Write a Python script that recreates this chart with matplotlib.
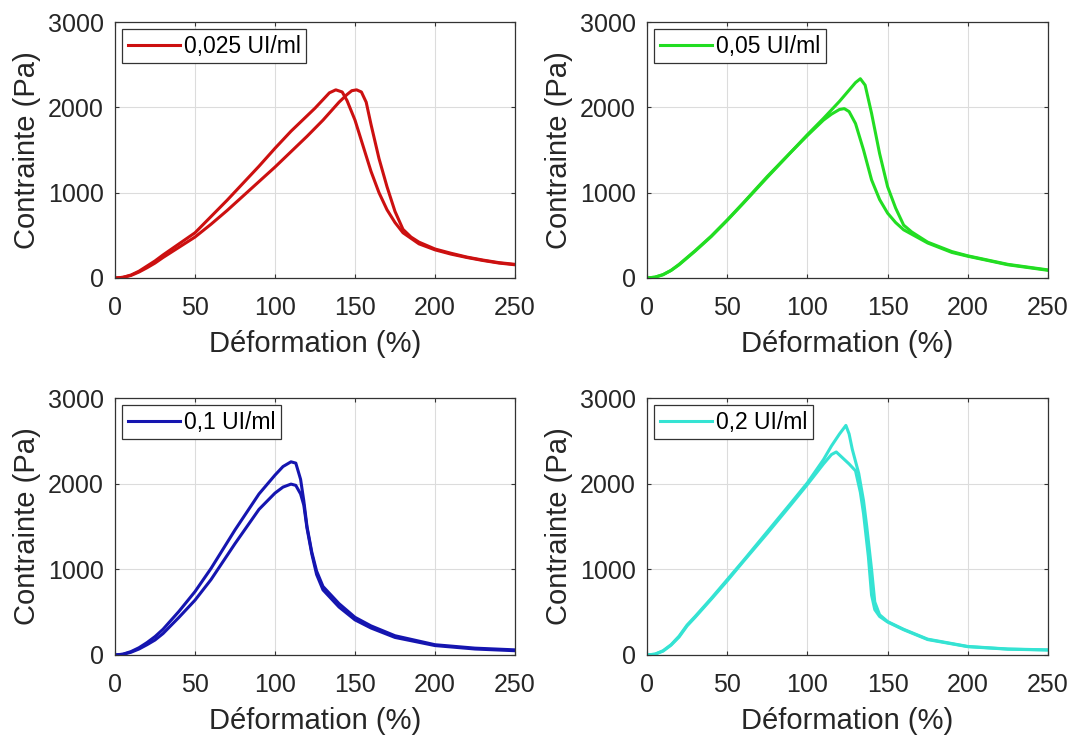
#!/usr/bin/env python3

import matplotlib
matplotlib.use("Agg")
import matplotlib.pyplot as plt

# strain (%) / stress (Pa), two tests per concentration
red_a_x = [0, 5, 10, 15, 20, 25, 30, 40, 50, 60, 70, 80, 90, 100, 110, 120, 125, 130, 134, 138,
           142, 145, 150, 155, 160, 165, 170, 175, 180, 190, 200, 210, 220, 230, 240, 250]
red_a_y = [0, 8, 35, 80, 140, 200, 270, 400, 530, 720, 910, 1110, 1310, 1520, 1720, 1900, 1990, 2090, 2170, 2205,
           2180, 2080, 1850, 1550, 1250, 1000, 800, 650, 530, 400, 330, 280, 240, 205, 175, 155]
red_b_x = [0, 5, 10, 15, 20, 25, 30, 40, 50, 60, 70, 80, 90, 100, 110, 120, 130, 140, 145, 148,
           151, 154, 157, 160, 165, 170, 175, 180, 185, 190, 200, 210, 220, 230, 240, 250]
red_b_y = [0, 8, 30, 70, 120, 175, 240, 360, 480, 630, 790, 960, 1130, 1300, 1480, 1660, 1850, 2060, 2150, 2195,
           2205, 2180, 2060, 1800, 1400, 1070, 780, 570, 480, 420, 340, 290, 245, 210, 180, 160]

green_a_x = [0, 5, 10, 15, 20, 25, 30, 40, 50, 60, 75, 90, 100, 110, 115, 120, 123, 126, 130, 135,
             140, 145, 150, 155, 160, 175, 190, 200, 225, 250]
green_a_y = [0, 10, 40, 90, 160, 240, 320, 490, 680, 880, 1190, 1480, 1670, 1850, 1920, 1975, 1985, 1950, 1810, 1500,
             1150, 920, 760, 650, 565, 410, 300, 255, 155, 90]
green_b_x = [0, 5, 10, 15, 20, 25, 30, 40, 50, 60, 75, 90, 100, 110, 120, 125, 130, 133, 136, 140,
             145, 150, 155, 160, 165, 175, 190, 200, 225, 250]
green_b_y = [0, 10, 38, 88, 155, 235, 315, 485, 675, 875, 1180, 1480, 1680, 1870, 2070, 2180, 2290, 2335, 2260, 1930,
             1460, 1070, 820, 620, 540, 420, 310, 260, 160, 95]

blue_a_x = [0, 5, 10, 15, 20, 25, 30, 40, 50, 60, 75, 90, 100, 105, 110, 113, 116, 118, 120, 123,
            126, 130, 140, 150, 160, 175, 200, 225, 250]
blue_a_y = [0, 10, 40, 85, 145, 215, 300, 510, 740, 1010, 1460, 1880, 2100, 2200, 2255, 2240, 2050, 1800, 1500, 1200,
            980, 800, 600, 440, 340, 225, 120, 80, 60]
blue_b_x = blue_a_x
blue_b_y = [0, 8, 32, 70, 120, 175, 250, 440, 640, 880, 1300, 1700, 1890, 1960, 1995, 1980, 1880, 1750, 1480, 1180,
            940, 760, 560, 410, 315, 205, 110, 70, 50]

cyan_a_x = [0, 5, 10, 15, 20, 25, 30, 40, 50, 60, 75, 90, 100, 110, 115, 120, 124, 126, 128, 132,
            135, 137, 140, 142, 145, 150, 160, 175, 200, 225, 250]
cyan_a_y = [0, 10, 50, 120, 220, 350, 450, 660, 880, 1100, 1440, 1780, 2010, 2280, 2440, 2580, 2680, 2580, 2400, 2120,
            1800, 1500, 1000, 620, 470, 390, 300, 185, 100, 70, 60]
cyan_b_x = [0, 5, 10, 15, 20, 25, 30, 40, 50, 60, 75, 90, 100, 110, 115, 118, 122, 126, 130, 133,
            135, 138, 140, 142, 145, 150, 160, 175, 200, 225, 250]
cyan_b_y = [0, 10, 45, 115, 210, 340, 440, 650, 865, 1090, 1420, 1760, 1990, 2230, 2340, 2370, 2300, 2230, 2150, 1900,
            1650, 1150, 700, 530, 450, 385, 295, 180, 97, 68, 58]

labels = ["0,025 UI/ml", "0,05 UI/ml", "0,1 UI/ml", "0,2 UI/ml"]
colors = ["#cc1010", "#22dd22", "#1515b0", "#35e3d3"]
xticks = [0, 50, 100, 150, 200, 250]
yticks = [0, 1000, 2000, 3000]


def main():
    plt.rcParams['font.family'] = ['Liberation Sans', 'DejaVu Sans']
    W, H = 1076, 738
    fig = plt.figure(figsize=(W / 100, H / 100), dpi=100)

    # axes boxes in pixels: left, top, right, bottom
    boxes = [(115, 22, 515, 278), (647, 22, 1048, 278),
             (115, 398, 515, 655), (647, 398, 1048, 655)]
    curves = [((red_a_x, red_a_y), (red_b_x, red_b_y)),
              ((green_a_x, green_a_y), (green_b_x, green_b_y)),
              ((blue_a_x, blue_a_y), (blue_b_x, blue_b_y)),
              ((cyan_a_x, cyan_a_y), (cyan_b_x, cyan_b_y))]

    for i in range(4):
        l, t, r, b = boxes[i]
        ax = fig.add_axes([l / W, 1 - b / H, (r - l) / W, (b - t) / H])
        (xa, ya), (xb, yb) = curves[i]
        ax.plot(xa, ya, '-', lw=2.2, c=colors[i], label=labels[i])
        ax.plot(xb, yb, '-', lw=2.2, c=colors[i])
        ax.set_xlim(0, 250)
        ax.set_ylim(0, 3000)
        ax.set_xticks(xticks)
        ax.set_yticks(yticks)
        ax.grid(True, color='#dcdcdc', lw=0.8)
        ax.set_axisbelow(True)
        ax.tick_params(direction='in', labelsize=18, length=3, color='#333333', top=True, right=True,
                       labeltop=False, labelright=False, labelcolor='#262626')
        ax.tick_params(axis='x', pad=13)
        ax.tick_params(axis='y', pad=8)
        for s in ax.spines.values():
            s.set_color('#333333')
            s.set_linewidth(0.9)
        ax.set_xlabel("Déformation (%)", fontsize=21, labelpad=7, color='#262626')
        ax.set_ylabel("Contrainte (Pa)", fontsize=21, labelpad=5, color='#262626')
        leg = ax.legend(loc='upper left', fontsize=16.5, fancybox=False, framealpha=1,
                        edgecolor='#333333', handlelength=2.3, handletextpad=0.15,
                        borderpad=0.25, borderaxespad=0.3)
        leg.get_frame().set_linewidth(0.9)

    fig.savefig('out.png', dpi=100)


if __name__ == "__main__":
    main()
